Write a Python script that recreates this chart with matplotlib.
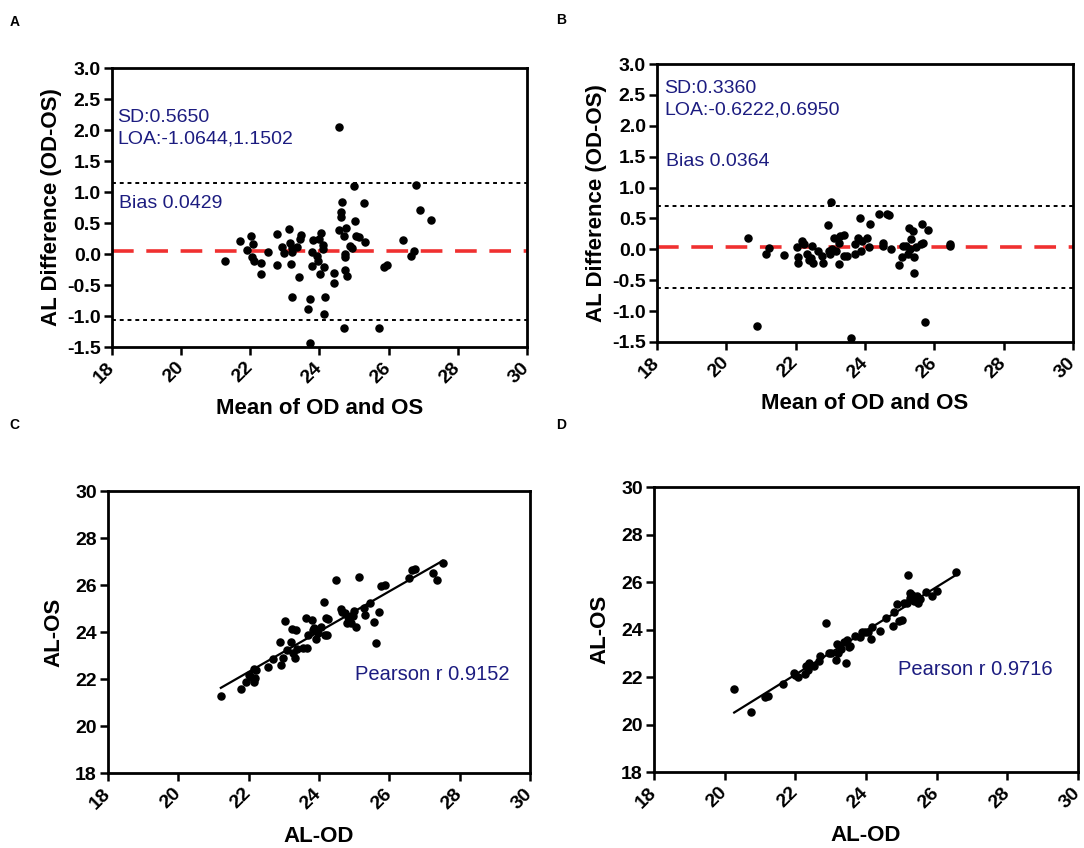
# Bland-Altman y correlacion AL (OD vs OS)

import numpy as np
import matplotlib.pyplot as plt

plt.rcParams['font.family'] = ['Liberation Sans', 'DejaVu Sans']

# Panel A: media y diferencia
a_media = [24.57, 25.00, 26.80, 24.64, 25.28, 26.90, 27.22, 24.63, 24.63, 25.02,
           24.56, 24.76, 24.71, 25.07, 25.15, 25.33, 24.88, 24.95, 24.73, 24.74,
           24.75, 24.81, 24.71, 25.72, 25.86, 25.94, 26.43, 26.72, 26.65, 21.26,
           21.69, 21.90, 22.02, 22.09, 22.04, 22.11, 22.31, 22.30, 22.52, 22.76,
           22.77, 22.91, 22.97, 23.11, 23.16, 23.20, 23.22, 23.34, 23.18, 23.40,
           23.22, 23.44, 23.47, 23.80, 23.78, 23.77, 23.72, 23.67, 23.74, 24.00,
           24.05, 24.09, 24.11, 23.94, 23.97, 24.01, 24.14, 24.17, 24.12, 24.41,
           24.41]
a_dif = [2.05, 1.10, 1.11, 0.84, 0.83, 0.71, 0.55, 0.67, 0.60, 0.54,
         0.39, 0.42, 0.29, 0.29, 0.27, 0.19, 0.13, 0.09, 0.00, -0.05,
         -0.26, -0.35, -1.19, -1.19, -0.21, -0.17, 0.23, 0.05, -0.04, -0.11,
         0.21, 0.07, 0.29, 0.16, -0.05, -0.12, -0.15, -0.33, 0.03, 0.32,
         -0.17, 0.11, 0.02, 0.41, 0.17, 0.09, 0.03, 0.11, -0.16, -0.37,
         -0.70, 0.25, 0.31, 0.23, 0.03, -0.20, -0.73, -0.89, -1.43, 0.24,
         0.34, 0.14, 0.08, -0.04, -0.12, -0.33, -0.21, -0.70, -0.96, -0.30,
         -0.47]
a_sd = 0.5650
a_bias = 0.0429
a_loa = [-1.0644, 1.1502]

# Panel B
b_media = [20.63, 20.88, 21.14, 21.22, 21.65, 22.05, 22.06, 22.08, 22.17, 22.23,
           22.33, 22.38, 22.44, 22.48, 22.50, 22.64, 22.77, 22.79, 22.93, 23.02,
           22.96, 23.00, 23.05, 23.10, 23.17, 23.24, 23.26, 23.29, 23.39, 23.40,
           23.48, 23.59, 23.70, 23.72, 23.80, 23.86, 23.89, 23.92, 24.06, 24.12,
           24.15, 24.41, 24.51, 24.51, 24.62, 24.70, 24.76, 24.97, 25.08, 25.09,
           25.18, 25.24, 25.27, 25.31, 25.33, 25.38, 25.40, 25.40, 25.46, 25.60,
           25.63, 25.67, 25.73, 25.81, 26.46, 26.46]
b_dif = [0.18, -1.24, -0.07, 0.02, -0.09, 0.03, -0.12, -0.22, 0.13, 0.09,
         -0.07, -0.18, -0.14, 0.06, -0.22, -0.03, -0.10, -0.22, 0.39, 0.77,
         -0.03, -0.08, 0.01, 0.19, -0.03, 0.10, -0.23, 0.22, 0.23, -0.11,
         -0.11, -1.43, -0.08, 0.08, 0.19, 0.51, -0.02, 0.13, 0.18, 0.04,
         0.41, 0.57, 0.11, 0.05, 0.57, 0.56, 0.00, -0.25, -0.13, 0.06,
         0.05, -0.07, 0.34, 0.01, 0.16, 0.29, -0.13, -0.38, 0.04, 0.08,
         0.41, 0.11, -1.17, 0.31, 0.08, 0.05]
b_sd = 0.3360
b_bias = 0.0364
b_loa = [-0.6222, 0.6950]

# Panel C: AL-OD vs AL-OS
c_od = [21.21, 21.79, 21.93, 22.01, 22.08, 22.14, 22.18, 22.22, 22.15, 22.55,
        22.70, 22.88, 22.93, 22.98, 23.04, 23.10, 23.21, 23.23, 23.26, 23.33,
        23.36, 23.37, 23.56, 23.65, 23.64, 23.68, 23.80, 23.83, 23.86, 23.92,
        23.97, 24.05, 24.13, 24.17, 24.24, 24.20, 24.27, 24.49, 24.63, 24.65,
        24.75, 24.79, 24.82, 24.90, 24.97, 25.01, 25.06, 25.14, 25.27, 25.30,
        25.44, 25.56, 25.62, 25.71, 25.77, 25.87, 26.57, 26.65, 26.73, 27.25,
        27.36, 27.52]
c_os = [21.29, 21.56, 21.89, 22.16, 22.07, 22.44, 22.03, 22.37, 21.89, 22.50,
        22.84, 23.57, 22.60, 22.91, 24.45, 23.22, 23.59, 24.11, 23.12, 22.88,
        24.07, 23.26, 23.32, 23.33, 24.60, 23.89, 24.50, 24.07, 24.18, 23.69,
        23.97, 24.23, 25.29, 23.89, 23.89, 24.61, 24.55, 26.23, 24.96, 24.85,
        24.79, 24.40, 24.64, 24.40, 24.68, 24.89, 24.23, 26.33, 25.02, 24.72,
        25.22, 24.44, 23.55, 24.87, 25.97, 26.00, 26.31, 26.64, 26.68, 26.51,
        26.23, 26.96]
c_r = 0.9152

# Panel D
d_od = [20.27, 20.75, 21.13, 21.23, 21.64, 21.96, 22.00, 22.07, 22.27, 22.29,
        22.35, 22.40, 22.52, 22.67, 22.71, 22.88, 22.96, 23.02, 23.15, 23.17,
        23.22, 23.29, 23.39, 23.43, 23.47, 23.52, 23.56, 23.69, 23.82, 23.90,
        23.97, 24.06, 24.14, 24.17, 24.39, 24.57, 24.77, 24.79, 24.87, 24.93,
        25.01, 25.07, 25.17, 25.19, 25.25, 25.26, 25.31, 25.35, 25.40, 25.45,
        25.48, 25.52, 25.71, 25.88, 26.00, 26.54]
d_os = [21.48, 20.54, 21.16, 21.20, 21.69, 22.19, 22.10, 22.01, 22.11, 22.46,
        22.29, 22.61, 22.46, 22.68, 22.89, 24.29, 23.02, 23.02, 22.72, 23.37,
        23.03, 23.20, 23.48, 22.61, 23.55, 23.27, 23.31, 23.73, 23.69, 23.88,
        23.90, 23.90, 23.58, 24.11, 23.94, 24.47, 24.15, 24.75, 25.06, 24.37,
        24.40, 25.13, 25.11, 26.30, 25.53, 25.31, 25.46, 25.22, 25.34, 25.43,
        25.11, 25.27, 25.59, 25.41, 25.64, 26.41]
d_r = 0.9716

azul = '#1c1c80'
rojo = '#f03030'

fig = plt.figure(figsize=(10.84, 8.48), dpi=100)
ax_a = fig.add_axes([0.1033, 0.5908, 0.3828, 0.3290])
ax_b = fig.add_axes([0.6061, 0.5967, 0.3838, 0.3278])
ax_c = fig.add_axes([0.0996, 0.0884, 0.3893, 0.3325])
ax_d = fig.add_axes([0.6033, 0.0896, 0.3911, 0.3361])


def estilo(ax):
    for s in ax.spines.values():
        s.set_linewidth(2)
    ax.tick_params(direction='out', length=6, width=1.8, labelsize=14,
                   top=False, right=False)
    ax.tick_params(axis='x', pad=7)
    ax.tick_params(axis='y', pad=2)
    for lab in ax.get_xticklabels() + ax.get_yticklabels():
        lab.set_fontweight('bold')
    for lab in ax.get_xticklabels():
        lab.set_rotation(45)
        lab.set_ha('right')
        lab.set_va('center')
        lab.set_rotation_mode('anchor')


def bland_altman(ax, media, dif, sd, bias, loa, pos):
    ax.scatter(media, dif, s=26, color='black', zorder=3)
    ax.axhline(bias, color=rojo, lw=2.6, ls=(0, (6, 3.5)), zorder=2)
    for v in loa:
        ax.axhline(v, color='black', lw=1.4, ls=(0, (2, 2)), zorder=2)
    ax.set_xlim(18, 30)
    ax.set_ylim(-1.5, 3.0)
    ax.set_xticks(np.arange(18, 31, 2))
    ax.set_yticks(np.arange(-1.5, 3.01, 0.5))
    ax.set_yticklabels(['%.1f' % v for v in np.arange(-1.5, 3.01, 0.5)])
    ax.set_xlabel('Mean of OD and OS', fontsize=16, fontweight='bold', labelpad=8)
    ax.set_ylabel('AL Difference (OD-OS)', fontsize=16, fontweight='bold', labelpad=4)
    ax.text(pos[0], pos[1], 'SD:%.4f' % sd, transform=ax.transAxes,
            color=azul, fontsize=14, va='center')
    ax.text(pos[0], pos[2], 'LOA:%.4f,%.4f' % (loa[0], loa[1]), transform=ax.transAxes,
            color=azul, fontsize=14, va='center')
    ax.text(pos[0] + 0.004, pos[3], 'Bias %.4f' % bias, transform=ax.transAxes,
            color=azul, fontsize=14, va='center')
    estilo(ax)


def correlacion(ax, od, os_, r, pos):
    od = np.array(od)
    os_ = np.array(os_)
    ax.scatter(od, os_, s=26, color='black', zorder=3)
    m, b = np.polyfit(od, os_, 1)
    xs = np.array([od.min(), od.max()])
    ax.plot(xs, m * xs + b, color='black', lw=1.6, zorder=2)
    ax.set_xlim(18, 30)
    ax.set_ylim(18, 30)
    ax.set_xticks(np.arange(18, 31, 2))
    ax.set_yticks(np.arange(18, 31, 2))
    ax.set_xlabel('AL-OD', fontsize=16, fontweight='bold', labelpad=10)
    ax.set_ylabel('AL-OS', fontsize=16, fontweight='bold', labelpad=8)
    ax.text(pos[0], pos[1], 'Pearson r %.4f' % r, transform=ax.transAxes,
            color=azul, fontsize=14.5, va='center')
    estilo(ax)


bland_altman(ax_a, a_media, a_dif, a_sd, a_bias, a_loa, (0.013, 0.823, 0.746, 0.513))
bland_altman(ax_b, b_media, b_dif, b_sd, b_bias, b_loa, (0.017, 0.913, 0.835, 0.651))
correlacion(ax_c, c_od, c_os, c_r, (0.585, 0.351))
correlacion(ax_d, d_od, d_os, d_r, (0.576, 0.358))

for letra, x, y in [('A', 0.009, 0.974), ('B', 0.513, 0.976),
                    ('C', 0.009, 0.499), ('D', 0.513, 0.499)]:
    fig.text(x, y, letra, fontsize=10, fontweight='bold', va='center')

fig.savefig('out.png', dpi=100)
